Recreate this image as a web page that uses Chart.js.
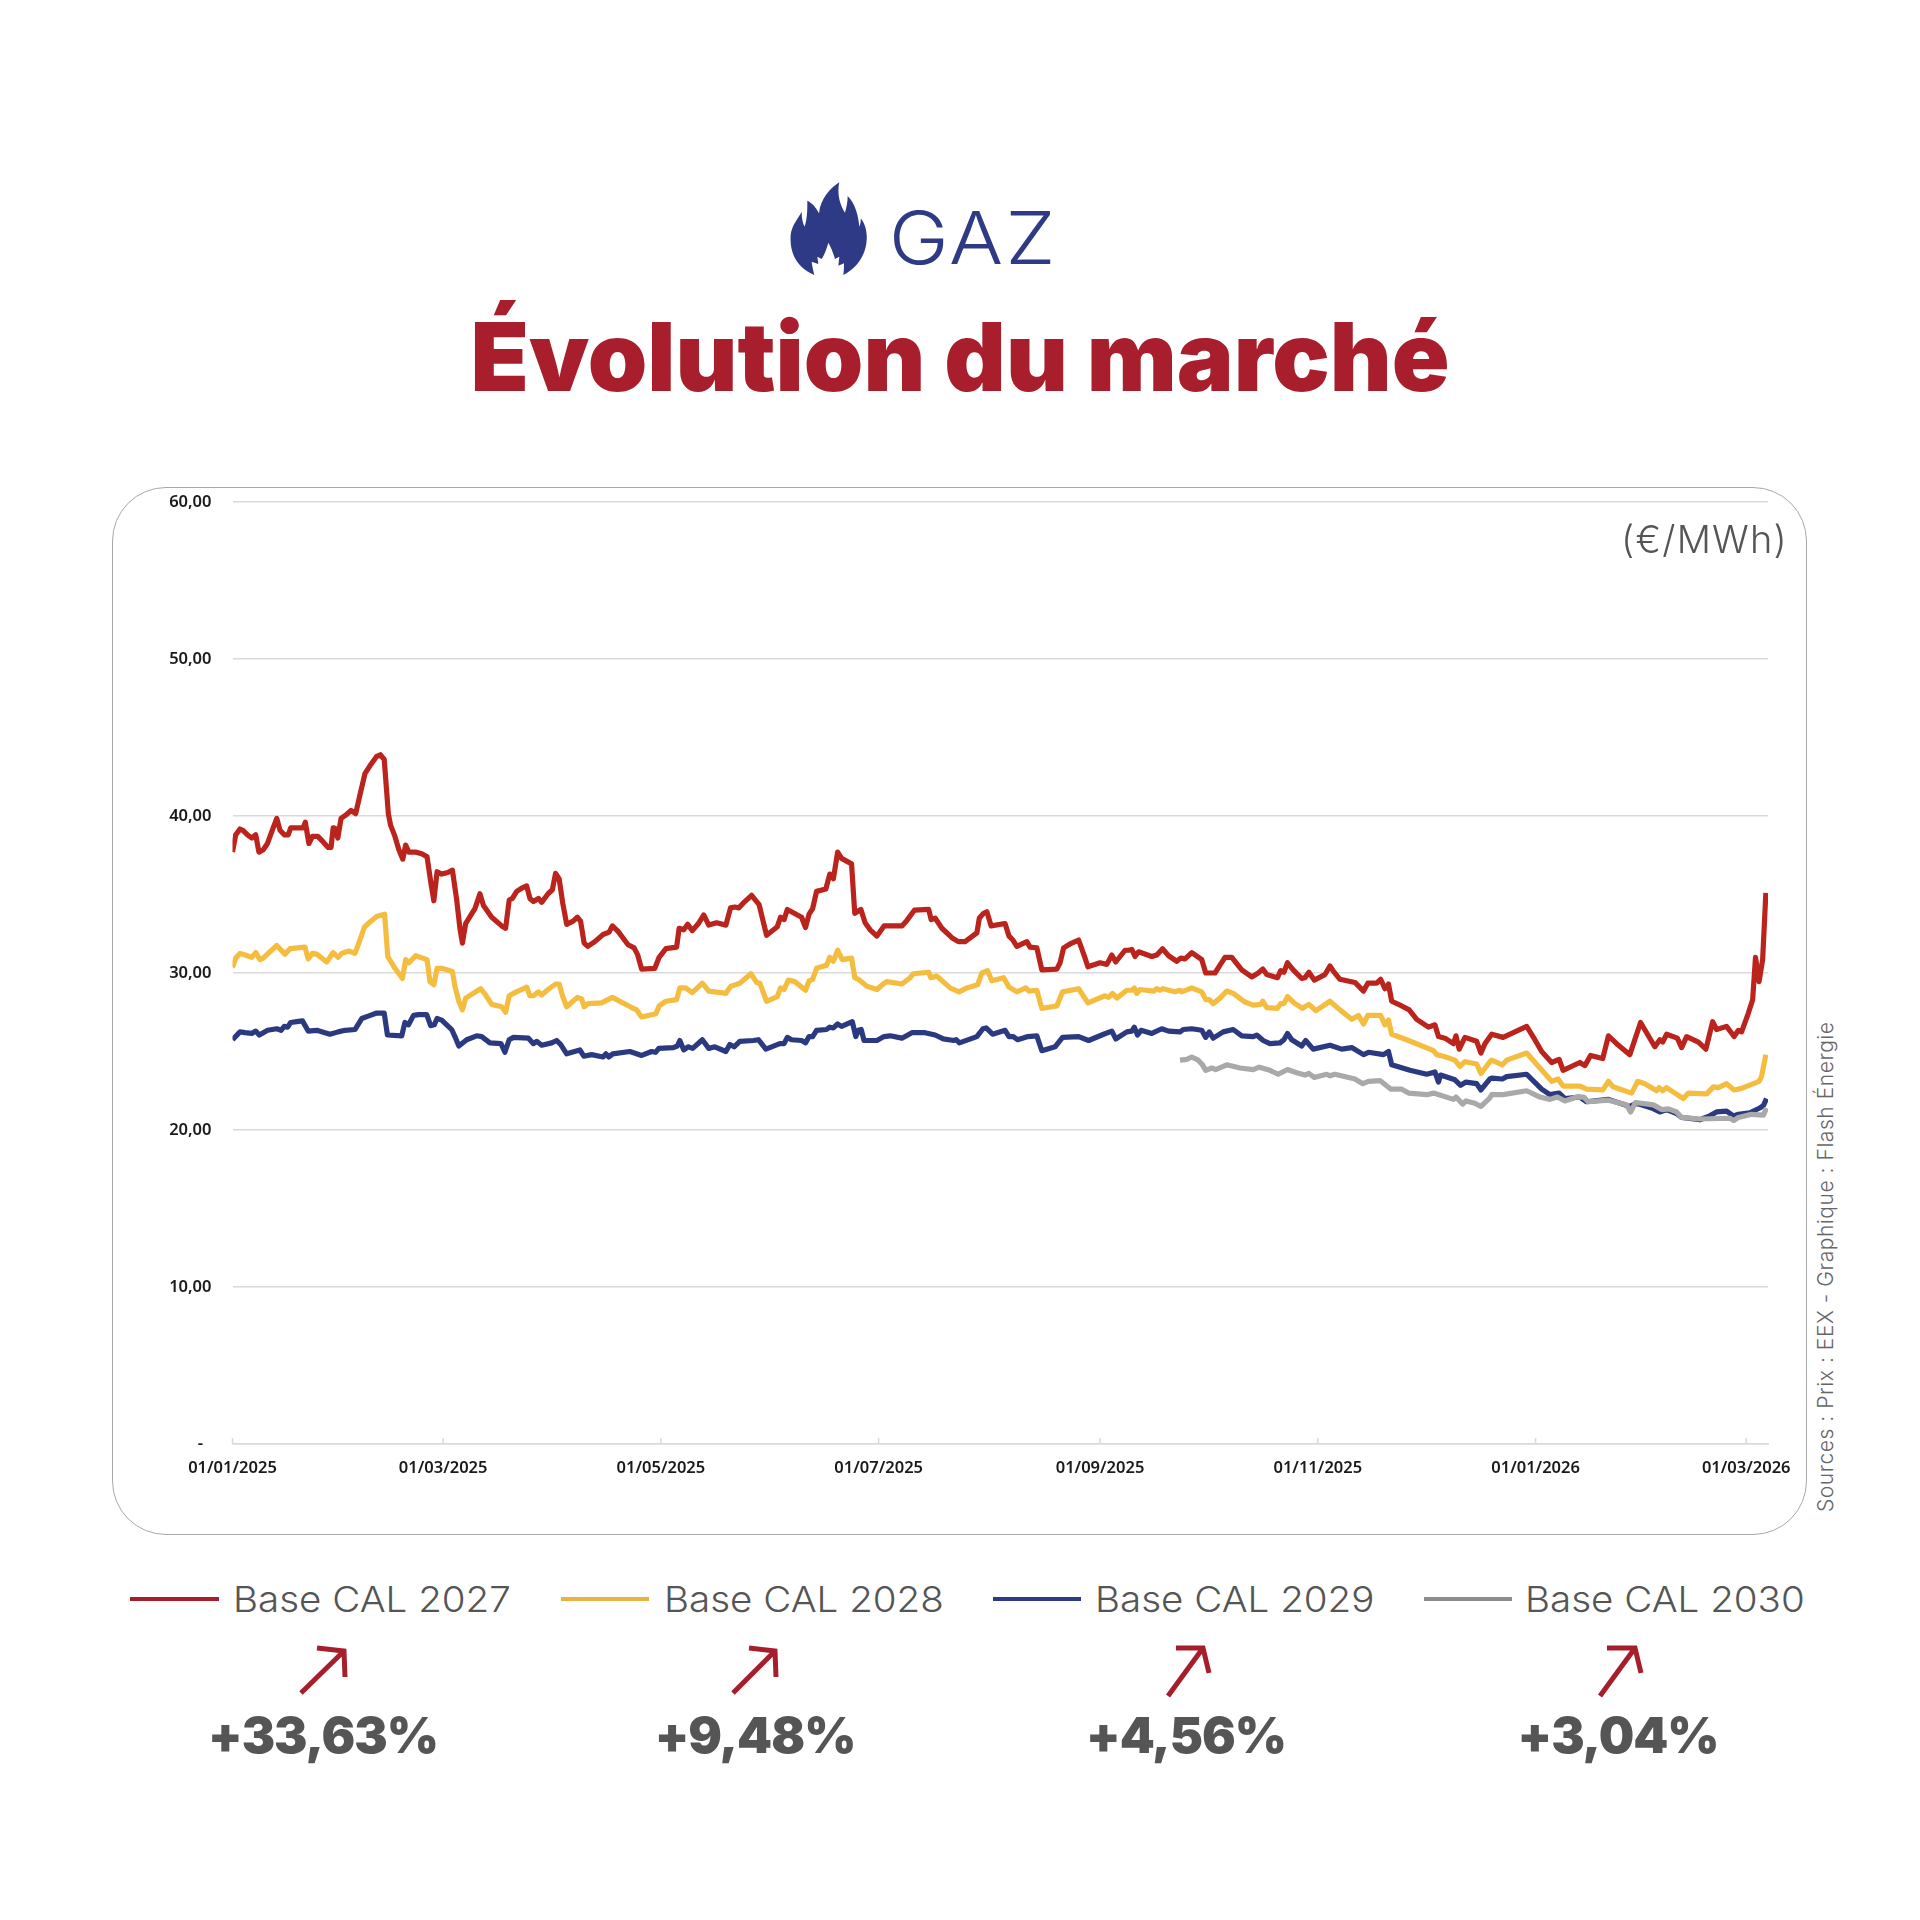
<!DOCTYPE html>
<html lang="fr">
<head>
<meta charset="utf-8">
<title>Évolution du marché</title>
<script src="https://cdn.jsdelivr.net/npm/chart.js@4/dist/chart.umd.js"></script>
<style>
  html, body { margin: 0; padding: 0; background: #fff; }
  #page { position: relative; width: 1920px; height: 1920px; overflow: hidden; font-family: Inter, sans-serif; }
  #page > * { position: absolute; }
  #panel { left: 112px; top: 487px; width: 1695px; height: 1048px; box-sizing: border-box; border: 1.5px solid #a8a8a8; border-radius: 54px; }
  #chart { left: 112px; top: 487px; }
  #gaz { left: 889px; top: 194px; font-size: 73px; line-height: 88px; font-weight: 300; color: #2e3a85; letter-spacing: 2px; transform: scaleX(1.1); transform-origin: left center; }
  #title { left: 0; width: 1920px; top: 302px; text-align: center; font-size: 95.4px; line-height: 110px; font-weight: 900; color: #a81e2c; }
  #unit { right: 132px; top: 516px; font-size: 38px; line-height: 46px; font-weight: 300; color: #555; letter-spacing: 1.2px; }
  #source { left: 1813px; top: 1020px; height: 492px; writing-mode: vertical-rl; transform: rotate(180deg); font-size: 21px; line-height: 26px; font-weight: 300; color: #666; white-space: nowrap; text-align: left; letter-spacing: .55px; }
  .key { height: 4px; top: 1597px; }
  .name { top: 1576px; font-size: 36px; line-height: 46px; font-weight: 300; color: #555; white-space: nowrap; transform: scaleX(1.07); transform-origin: left center; }
  .pct { top: 1703px; width: 300px; text-align: center; font-size: 50px; line-height: 64px; font-weight: 900; color: #555; letter-spacing: -1px; }
</style>
</head>
<body>
<div id="page">
  <svg style="left:780px;top:170px" width="100" height="115" viewBox="240 30 300 345">
    <path fill="#2e3a85" d="M343 345 C295 325 268 285 272 225 C275 195 295 175 305 155 C305 175 308 190 314 200 C322 175 322 150 322 122 C338 130 350 145 357 160 C362 115 390 85 418 67 C410 100 420 135 435 158 C440 140 443 125 443 108 C465 130 475 165 478 200 C482 190 483 182 482 175 C495 190 502 215 500 240 C498 285 470 325 430 345 C432 330 432 320 432 310 L415 317 L418 290 L405 297 C400 280 393 262 385 248 C380 265 375 282 365 297 L352 290 L355 312 L335 305 C337 320 340 333 343 345 Z"/>
  </svg>
  <div id="gaz">GAZ</div>
  <div id="title">Évolution du marché</div>

  <div id="panel"></div>
  <canvas id="chart" width="1695" height="1048"></canvas>
  <div id="unit">(€/MWh)</div>
  <div id="source">Sources : Prix : EEX - Graphique : Flash Énergie</div>

  <div class="key" style="left:130px;width:89px;background:#a61e2c"></div>
  <div class="name" style="left:233px">Base CAL 2027</div>
  <div class="key" style="left:561px;width:88px;background:#e6b345"></div>
  <div class="name" style="left:664px">Base CAL 2028</div>
  <div class="key" style="left:993px;width:88px;background:#2e3a85"></div>
  <div class="name" style="left:1095px">Base CAL 2029</div>
  <div class="key" style="left:1424px;width:88px;background:#8c8c8c"></div>
  <div class="name" style="left:1525px">Base CAL 2030</div>

  <svg style="left:0;top:1630px" width="1920" height="80" viewBox="0 1630 1920 80" fill="none" stroke="#a61e2c" stroke-width="5">
    <path d="M301 1693 L344 1651 M317 1648 L344 1651 L345 1677"/>
    <path d="M733 1693 L775 1651 M749 1648 L775 1651 L776 1677"/>
    <path d="M1168 1696 L1203 1648 M1176 1648 L1203 1648 L1209 1673"/>
    <path d="M1600 1696 L1635 1648 M1607 1648 L1635 1648 L1641 1673"/>
  </svg>
  <div class="pct" style="left:173px">+33,63%</div>
  <div class="pct" style="left:605px">+9,48%</div>
  <div class="pct" style="left:1036px">+4,56%</div>
  <div class="pct" style="left:1468px">+3,04%</div>
</div>

<script>
// days counted from 01/01/2025
const xTickDays = [0, 59, 120, 181, 243, 304, 365, 424];
const xTickLabels = ['01/01/2025', '01/03/2025', '01/05/2025', '01/07/2025', '01/09/2025', '01/11/2025', '01/01/2026', '01/03/2026'];
const yTickLabels = ['-\u00a0\u00a0', '10,00', '20,00', '30,00', '40,00', '50,00', '60,00'];

const days2027 = [
  0, .9, 2.1, 3, 4.2, 5.4, 6.5, 7.4, 8.6, 9.8,
  11, 12.4, 13.3, 14.5, 15.6, 16.3, 18, 19.8, 20.4, 21.4,
  22.4, 23.9, 25.4, 26.8, 27.6, 28.2, 28.8, 29.5, 30.4, 31.7,
  33.2, 34.5, 35.7, 37.1, 38.8, 40.4, 41.4, 42.5, 43.65, 44.3,
  45.5, 46.6, 47.7, 48.5, 49.4, 51.3, 53, 54.5, 55.6, 56.4,
  57.3, 58.6, 60.3, 61.6, 62.8, 63.7, 64.4, 65.3, 67.9, 69.3,
  70.3, 72.6, 75.4, 76.5, 77.5, 78.4, 79.6, 81, 82.4, 83.3,
  84.3, 85.7, 86.6, 88.4, 89.6, 90.5, 91.5, 92.5, 93.6, 95.4,
  96.6, 97.5, 98.5, 99.5, 101.5, 103.8, 105.5, 106.4, 108, 110.8,
  112.5, 113.5, 114.6, 118.3, 119.5, 121.4, 124.4, 125.1, 126.4, 127.5,
  128.8, 130.5, 132, 133.4, 135.6, 138.2, 139.5, 140.7, 141.8, 143.5,
  145.4, 147.5, 149.6, 152.6, 153.5, 154.5, 155.4, 159.4, 160.5, 161.5,
  162.5, 163.6, 166.2, 167.3, 168.3, 169.5, 170.6, 173.4, 174.3, 175.3,
  176, 177.2, 178.6, 180.5, 182.5, 184.2, 187.5, 188.9, 191, 195,
  195.7, 196.8, 198.7, 201.5, 203.3, 205.2, 208.5, 209.2, 210.4, 211.3,
  212.5, 216.4, 217.5, 218.6, 219.7, 222.5, 223.4, 225.3, 226.7, 230.9,
  231.8, 232.8, 234.6, 237, 238.5, 239.6, 243, 244.9, 246.3, 247.4,
  250, 251, 251.9, 252.8, 253.8, 257.5, 258.9, 260.5, 262.2, 264.5,
  265.6, 266.8, 268.7, 271.5, 272.6, 275.2, 276.6, 278, 279.9, 282.7,
  285.5, 287.3, 288.6, 289.7, 292.7, 293.6, 294.5, 295.5, 297.1, 299.5,
  300.4, 301.5, 303, 306, 307.4, 308.4, 310.2, 314.4, 316.8, 318,
  320.5, 321.6, 322.8, 323.8, 324.7, 327.5, 329.6, 331.7, 335, 336.8,
  337.8, 339.6, 342, 342.7, 343.6, 345.2, 348.5, 349.7, 350.8, 352.7,
  355.9, 358.3, 362.5, 364.8, 366.7, 369.5, 371.6, 372.7, 377.4, 378.8,
  380.4, 383.8, 385.4, 387.7, 391.4, 394.4, 398.4, 399.8, 400.6, 401.7,
  404.7, 405.9, 407.3, 410.6, 412.7, 414.6, 415.7, 418.5, 420.6, 421.8,
  422.7, 424.6, 425.8, 426.6, 427.6, 428.6, 429.5
];
const cal2027 = [
  37.7, 38.8, 39.17, 39.07, 38.8, 38.6, 38.8, 37.7, 37.85, 38.25,
  39, 39.85, 39.1, 38.8, 38.8, 39.25, 39.25, 39.25, 39.6, 38.25,
  38.7, 38.7, 38.35, 38, 38, 39.25, 39.2, 38.6, 39.85, 40.05,
  40.35, 40.15, 41.35, 42.7, 43.3, 43.8, 43.9, 43.6, 40.15, 39.4,
  38.7, 37.85, 37.25, 38.15, 37.7, 37.7, 37.6, 37.4, 35.7, 34.6,
  36.45, 36.3, 36.4, 36.55, 34.65, 32.85, 31.9, 33.15, 34.1, 35.05,
  34.3, 33.55, 33, 32.85, 34.65, 34.75, 35.2, 35.4, 35.55, 34.75,
  34.55, 34.75, 34.5, 35.05, 35.3, 36.35, 36, 34.45, 33.1, 33.3,
  33.55, 33.3, 31.9, 31.7, 32, 32.45, 32.6, 33, 32.65, 31.8,
  31.6, 31.15, 30.25, 30.3, 31, 31.55, 31.65, 32.85, 32.75, 33.1,
  32.7, 33.15, 33.7, 33.05, 33.2, 33.05, 34.15, 34.2, 34.15, 34.55,
  34.95, 34.35, 32.4, 32.95, 33.55, 33.4, 34.05, 33.55, 32.9, 33.75,
  34.1, 35.2, 35.35, 36.3, 36, 37.7, 37.3, 36.95, 33.8, 33.95,
  34.05, 33.2, 32.75, 32.35, 33, 33, 33, 33.35, 34, 34.05,
  33.4, 33.5, 32.85, 32.25, 32, 32, 32.55, 33.5, 33.8, 33.9,
  33, 33.15, 32.35, 32.1, 31.7, 32, 31.65, 31.6, 30.2, 30.25,
  30.65, 31.6, 31.85, 32.1, 31.15, 30.4, 30.65, 30.55, 31.15, 30.7,
  31.45, 31.45, 31.5, 31.05, 31.35, 31.05, 31.15, 31.55, 31.1, 30.75,
  30.95, 30.9, 31.3, 30.85, 30, 30, 30.5, 31, 31, 30.2,
  29.75, 30, 30.25, 29.9, 29.7, 30.15, 30.05, 30.65, 30.2, 29.65,
  29.7, 30.05, 29.55, 29.9, 30.45, 30.1, 29.6, 29.4, 28.85, 29.35,
  29.35, 29.6, 29, 29.3, 28.2, 27.9, 27.65, 27.05, 26.55, 26.7,
  25.95, 25.85, 25.5, 26, 25.15, 25.9, 25.65, 24.9, 25.5, 26.1,
  25.9, 26.15, 26.6, 25.75, 25, 24.3, 24.5, 23.8, 24.3, 24.1,
  24.75, 24.55, 26, 25.5, 24.8, 26.85, 25.3, 25.75, 25.6, 26.1,
  25.85, 25.25, 25.95, 25.6, 25.15, 26.9, 26.4, 26.6, 25.95, 26.35,
  26.25, 27.45, 28.3, 31, 29.45, 30.85, 35.1
];

const days2028 = [
  0, .9, 2.1, 3.5, 5.4, 6.5, 7.7, 8.6, 10, 12.4,
  14.7, 16.1, 20.3, 21.2, 22.4, 23.6, 26.4, 28.2, 29.6, 30.6,
  32.6, 34.3, 35.7, 36.9, 38.5, 40.4, 42.6, 43.5, 45.5, 47.6,
  48.5, 49.4, 51.3, 54.5, 55.3, 56.4, 57.3, 58.6, 61.6, 62.3,
  63.4, 64.4, 65.3, 69.5, 70.9, 72.6, 75.4, 76.5, 77.5, 79.1,
  82.4, 83.3, 84.3, 85.7, 86.6, 88.4, 90.5, 91.5, 92.5, 93.6,
  96.6, 97.8, 98.5, 99.6, 103.4, 106.4, 111.8, 113.2, 114.6, 118.6,
  119.5, 121.4, 124.4, 125.3, 126.9, 128.8, 131.6, 133.4, 138.2, 139.5,
  142.1, 145.2, 146.8, 147.7, 149.6, 152.6, 153.5, 154.5, 155.7, 157.5,
  160.5, 161.5, 162.5, 163.6, 166.4, 167.3, 168.3, 169.5, 170.8, 173.4,
  174.3, 175.3, 177.7, 180.5, 182.5, 183.3, 187.5, 189.8, 190.7, 195,
  195.6, 197.3, 201, 203.5, 205.7, 208.7, 209.9, 211.5, 212.7, 216,
  217.5, 219.7, 222.2, 223.1, 225.3, 226.7, 230.9, 232.5, 237, 239.6,
  244.4, 245.4, 246.5, 247.7, 250.5, 251.9, 252.6, 253.3, 254.2, 258,
  258.9, 259.8, 260.6, 264, 265.4, 265.9, 268.7, 271.5, 272.6, 273.6,
  274.7, 276.6, 278.5, 280.3, 283.6, 285.9, 288, 288.6, 289.7, 292.7,
  293.6, 294.5, 295.5, 297.6, 299.7, 301.5, 303.5, 307.4, 310.2, 313.5,
  315.4, 316.8, 318, 321.6, 322.8, 323.8, 324.7, 328.9, 336.4, 337.3,
  339.2, 342.4, 343.8, 345.2, 348.5, 349.7, 352.2, 352.7, 355.7, 356.9,
  362.5, 369.5, 371.3, 372.7, 377.4, 379.3, 383.8, 385.4, 386.7, 391.9,
  393.6, 395.6, 398.9, 399.6, 400.6, 401.7, 406.4, 407.8, 412.9, 414.8,
  416.2, 418.5, 420.6, 422.7, 427.6, 428.3, 429.5
];
const cal2028 = [
  30.35, 30.95, 31.25, 31.15, 31, 31.3, 30.85, 30.95, 31.25, 31.75,
  31.2, 31.55, 31.65, 30.9, 31.25, 31.2, 30.7, 31.3, 31, 31.25,
  31.4, 31.25, 32.1, 32.9, 33.25, 33.6, 33.75, 31.05, 30.3, 29.65,
  30.85, 30.65, 31.1, 30.85, 29.45, 29.25, 30.3, 30.3, 30.1, 29.15,
  28.2, 27.65, 28.4, 29, 28.6, 28, 27.85, 27.5, 28.55, 28.75,
  29.1, 28.55, 28.55, 28.8, 28.6, 28.95, 29.3, 29.3, 28.5, 27.85,
  28.45, 28.35, 27.85, 28.05, 28.1, 28.45, 27.8, 27.65, 27.2, 27.4,
  27.9, 28.2, 28.3, 29.05, 29.05, 28.75, 29.35, 28.85, 28.7, 29.15,
  29.35, 29.95, 29.4, 29.35, 28.2, 28.5, 29.05, 28.95, 29.55, 29.45,
  28.9, 29.5, 29.6, 30.3, 30.5, 31, 30.75, 31.45, 30.85, 30.95,
  29.7, 29.6, 29.15, 28.95, 29.35, 29.45, 29.3, 29.7, 29.95, 30.05,
  29.7, 29.8, 29.05, 28.8, 29.05, 29.25, 30, 30.15, 29.5, 29.7,
  29.1, 28.8, 29.05, 28.85, 28.9, 27.75, 27.9, 28.8, 29, 28.1,
  28.55, 28.45, 28.7, 28.4, 28.9, 28.9, 29.05, 28.7, 28.95, 28.85,
  29, 28.9, 29, 28.8, 28.9, 28.8, 29.05, 28.8, 28.3, 28.3,
  28.05, 28.4, 28.85, 28.7, 28.15, 27.95, 28, 28.2, 27.8, 27.75,
  28.05, 28.05, 28.5, 28.05, 27.75, 28, 27.6, 28.2, 27.65, 27.05,
  27.3, 26.75, 27.3, 27.3, 26.7, 27, 26.1, 25.75, 25.05, 24.8,
  24.7, 24.45, 24.05, 24.35, 24.2, 23.6, 24.35, 24.45, 24.15, 24.45,
  24.9, 23.1, 23.25, 22.8, 22.8, 22.6, 22.55, 23.1, 22.75, 22.35,
  23.1, 22.95, 22.5, 22.7, 22.5, 22.7, 22, 22.35, 22.3, 22.75,
  22.7, 22.95, 22.55, 22.65, 23.1, 23.4, 24.8
];

const days2029 = [
  0, 2.1, 3.5, 5.4, 6.5, 7.5, 9.85, 12.4, 13.6, 14.5,
  15.4, 16.3, 18, 19.6, 21.2, 23.6, 27.3, 29.6, 31.5, 34.3,
  36.2, 38, 40.4, 42.5, 43.4, 47.4, 48.3, 49.3, 50.7, 52.1,
  54.4, 55.5, 56.5, 57.3, 58.6, 61.4, 62.3, 63.4, 65.6, 68.4,
  69.8, 72.1, 75.2, 76.3, 77.5, 78.7, 82.9, 84.3, 85.2, 86.6,
  89.4, 90.8, 91.9, 93.6, 97.3, 98.4, 100.6, 103.8, 104.6, 105.4,
  106.5, 111.3, 114.6, 117.4, 118.5, 119.4, 123.5, 124.6, 125.3, 126.4,
  127.6, 128.9, 131.6, 133.4, 135.1, 138.2, 139.3, 140.5, 142.1, 145.9,
  147.3, 149.4, 153.3, 154.5, 155.4, 156.6, 159.4, 160.5, 161.5, 162.5,
  163.6, 166.4, 167.3, 168.3, 169.5, 170.6, 173.6, 174.6, 175.3, 176.1,
  176.9, 180.5, 182.5, 184.2, 187.5, 190.3, 194, 196.8, 199.1, 202,
  202.7, 203.6, 208.5, 210.2, 211.1, 212.9, 216.4, 217.5, 218.7, 219.9,
  222.8, 225.3, 226.7, 230.4, 232.5, 237, 239.8, 244, 246.3, 247.4,
  250.5, 251.9, 252.6, 253.5, 254.5, 257.5, 260.3, 262.2, 265.4, 266.3,
  268.7, 271.5, 272.6, 273.6, 274.7, 277.5, 280.3, 282.7, 285.9, 286.9,
  288.7, 290.6, 293.4, 294.5, 295.5, 296.7, 299.5, 300.6, 302.7, 307.4,
  310.7, 313.5, 316.8, 318.2, 322.4, 323.8, 324.7, 329.8, 334.5, 336.8,
  337.8, 338.4, 342.4, 344, 345.5, 348.5, 349.7, 352.2, 352.7, 355.7,
  356.9, 362.5, 366.7, 369, 371.6, 373.2, 377.4, 379.3, 385.4, 391.4,
  393.3, 397.5, 399.8, 401.7, 404.5, 405.9, 411, 413.8, 415.7, 418.5,
  420.4, 421.8, 425, 427.8, 428.8, 429.7
];
const cal2029 = [
  25.75, 26.25, 26.2, 26.15, 26.3, 26.05, 26.35, 26.45, 26.35, 26.6,
  26.55, 26.85, 26.9, 26.95, 26.3, 26.35, 26.1, 26.25, 26.35, 26.4,
  27.1, 27.25, 27.45, 27.45, 26.05, 26, 26.85, 26.7, 27.3, 27.35,
  27.35, 26.65, 26.7, 27.1, 27, 26.4, 25.95, 25.35, 25.75, 26,
  25.95, 25.55, 25.5, 24.95, 25.75, 25.9, 25.85, 25.5, 25.65, 25.4,
  25.55, 25.7, 25.45, 24.85, 25.1, 24.7, 24.8, 24.65, 24.85, 24.65,
  24.85, 25, 24.75, 25, 24.95, 25.2, 25.25, 25.35, 25.7, 25.1,
  25.3, 25.2, 25.75, 25.2, 25.3, 25, 25.45, 25.3, 25.65, 25.7,
  25.75, 25.15, 25.5, 25.5, 25.9, 25.75, 25.7, 25.55, 25.95, 25.95,
  26.35, 26.4, 26.55, 26.5, 26.75, 26.6, 26.9, 25.95, 26.35, 26.4,
  25.7, 25.7, 25.95, 26, 25.85, 26.2, 26.2, 26.05, 25.8, 25.7,
  25.75, 25.55, 25.95, 26.45, 26.5, 26.1, 26.35, 25.95, 25.95, 25.75,
  25.95, 26, 25.05, 25.3, 25.9, 25.95, 25.7, 26.1, 26.3, 25.8,
  26.25, 26.3, 26.55, 26.05, 26.35, 26.15, 26.45, 26.3, 26.25, 26.4,
  26.45, 26.35, 25.9, 26.25, 25.85, 26.25, 26.4, 26, 25.95, 26.05,
  25.7, 25.5, 25.55, 25.75, 26.15, 25.75, 25.35, 25.7, 25.15, 25.4,
  25.15, 25.25, 24.8, 24.95, 24.8, 25, 24.15, 23.8, 23.55, 23.7,
  23.05, 23.5, 23.2, 22.85, 23.05, 22.95, 22.55, 23.25, 23.3, 23.25,
  23.4, 23.55, 22.6, 22.25, 22.35, 22, 22.1, 21.8, 21.95, 21.5,
  21.7, 21.4, 21.15, 21.3, 21.05, 20.8, 20.65, 20.9, 21.15, 21.2,
  20.9, 21, 21.1, 21.4, 21.55, 22
];

const days2030 = [
  265.4, 267.3, 268.7, 270.5, 271.7, 272.6, 274.3, 275.4, 278.5, 282.2,
  285.9, 287.6, 290.6, 292.9, 295.5, 298.1, 300.4, 301.5, 303, 306.5,
  307.4, 308.8, 314.4, 316.6, 318.2, 321.4, 324.5, 327.5, 329.4, 334.5,
  336.4, 342, 342.7, 344.6, 345.5, 348, 349.7, 352.2, 352.7, 355.9,
  362.5, 366.2, 369, 371.1, 373.2, 376.5, 378.5, 379.7, 385.4, 390.5,
  391.6, 393, 398, 400.3, 402.2, 404.5, 405.9, 411, 419.4, 420.5,
  421.8, 425.5, 428.8, 429.7
];
const cal2030 = [
  24.45, 24.5, 24.65, 24.45, 24.15, 23.8, 23.95, 23.85, 24.15, 23.95,
  23.85, 24, 23.8, 23.55, 23.85, 23.65, 23.5, 23.6, 23.35, 23.55,
  23.45, 23.55, 23.25, 22.95, 23.1, 23.15, 22.6, 22.6, 22.35, 22.25,
  22.35, 21.95, 22.1, 21.65, 21.85, 21.7, 21.5, 22.05, 22.25, 22.25,
  22.5, 22.1, 21.95, 22.1, 21.85, 22.1, 22.1, 21.8, 21.9, 21.6,
  21.15, 21.75, 21.6, 21.3, 21.35, 21.15, 20.8, 20.7, 20.75, 20.6,
  20.8, 21, 20.95, 21.4
];

const gridColor = '#dadada';
const labelFont = { family: '"Noto Sans", sans-serif', size: 16.5, weight: '600' };

function makeLine(label, days, values, color, order) {
    return {
        label: label,
        data: days.map((d, i) => ({ x: d, y: values[i] })),
        borderColor: color,
        borderWidth: 5.2,
        borderJoinStyle: 'round',
        pointRadius: 0,
        tension: 0,
        order: order
    };
}

// the date axis has its tick marks on the inside, chart.js only draws them outside
const insideTicks = {
    id: 'insideTicks',
    beforeDatasetsDraw(chart) {
        const x = chart.scales.x;
        const ctx = chart.ctx;
        ctx.save();
        ctx.strokeStyle = gridColor;
        ctx.lineWidth = 1.5;
        x.ticks.forEach(t => {
            const px = x.getPixelForValue(t.value);
            ctx.beginPath();
            ctx.moveTo(px, x.top);
            ctx.lineTo(px, x.top - 6);
            ctx.stroke();
        });
        ctx.restore();
    }
};

new Chart(document.getElementById('chart').getContext('2d'), {
    type: 'line',
    data: {
        datasets: [
            makeLine('Base CAL 2027', days2027, cal2027, '#bb231d', 2),
            makeLine('Base CAL 2028', days2028, cal2028, '#f5bd40', 3),
            makeLine('Base CAL 2029', days2029, cal2029, '#2b3a80', 4),
            makeLine('Base CAL 2030', days2030, cal2030, '#a9a9a9', 1)
        ]
    },
    options: {
        responsive: false,
        animation: false,
        layout: { padding: { top: 15, right: 39, left: 0, bottom: 0 } },
        plugins: { legend: { display: false }, tooltip: { enabled: false } },
        scales: {
            x: {
                type: 'linear',
                min: 0,
                max: 430.1,
                afterBuildTicks: scale => { scale.ticks = xTickDays.map(d => ({ value: d })); },
                afterFit: scale => { scale.height = 91; scale.paddingLeft = 0; scale.paddingRight = 0; },
                grid: { drawOnChartArea: false, drawTicks: false },
                border: { color: gridColor, width: 1.5 },
                ticks: {
                    autoSkip: false,
                    maxRotation: 0,
                    padding: 14,
                    color: '#1a1a1a',
                    font: labelFont,
                    callback: (value, index) => xTickLabels[index]
                }
            },
            y: {
                min: 0,
                max: 60,
                afterFit: scale => { scale.width = 120.5; scale.paddingTop = 0; scale.paddingBottom = 0; },
                grid: { color: gridColor, lineWidth: 1.5, drawTicks: false },
                border: { display: false },
                ticks: {
                    stepSize: 10,
                    padding: 21,
                    color: '#1a1a1a',
                    font: labelFont,
                    callback: (value, index) => yTickLabels[index]
                }
            }
        }
    },
    plugins: [insideTicks]
});
</script>
</body>
</html>
